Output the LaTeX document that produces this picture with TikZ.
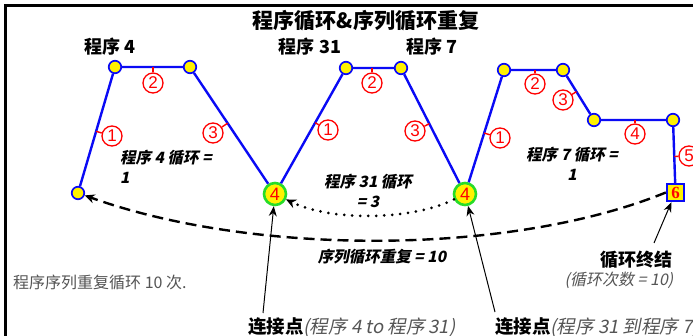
\documentclass[tikz,border=0pt]{standalone}
\usepackage{fontspec}
\setmainfont{Noto Sans CJK SC}[AutoFakeSlant=0.2]
\newfontfamily\slantfont{Noto Sans CJK SC}[FakeSlant=0.2]
\newfontfamily\numfont{Liberation Sans}
\newfontfamily\serfont{Liberation Serif}
\usetikzlibrary{arrows.meta,calc}
\definecolor{pblue}{RGB}{10,10,245}
\definecolor{pgreen}{RGB}{40,220,40}
\definecolor{pgray}{RGB}{85,85,85}
\newcommand{\fs}[1]{\fontsize{#1}{#1}\selectfont}
\begin{document}
\begin{tikzpicture}[x=1pt,y=-1pt,
  dot/.style={circle,draw=pblue,fill=yellow,line width=1.7pt,minimum size=12.5pt,inner sep=0pt},
  joint/.style={circle,draw=pgreen,fill=yellow,line width=2.6pt,minimum size=22pt,inner sep=0pt,text=red,font=\numfont\fs{18}},
  endbox/.style={rectangle,draw=pblue,fill=yellow,line width=1.9pt,minimum size=17.5pt,inner sep=0pt,text=red,font=\serfont\bfseries\fs{17}},
  num/.style={circle,draw=red,line width=1.3pt,minimum size=20pt,inner sep=0pt,text=red,font=\numfont\fs{17}},
  tick/.style={red,line width=1.4pt},
  seg/.style={pblue,line width=2.4pt},
  head/.style={font=\bfseries\fs{18},inner sep=0pt},
  note/.style={font=\slantfont\bfseries\fs{15.5},inner sep=0pt},
  tip/.style={-{Stealth[length=10pt,width=9pt]}},
  thin/.style={black,line width=1pt,-{Stealth[length=10pt,width=8pt]}}
]
\useasboundingbox (0,0) rectangle (693,336);
\fill[white] (0,0) rectangle (693,336);
\draw[line width=3pt] (5.5,345) -- (5.5,5.5) -- (705,5.5);

% title
\node[font=\bfseries\fs{21},inner sep=0pt] (title) at (366,21) {程序循环\&序列循环重复};

% points
\node[dot] (A0) at (78,193) {};
\node[dot] (A1) at (115,67) {};
\node[dot] (A2) at (190,67) {};
\node[joint] (J1) at (275,194) {4};
\node[dot] (B1) at (346,68) {};
\node[dot] (B2) at (401,68) {};
\node[joint] (J2) at (465,194) {4};
\node[dot] (D1) at (504,70) {};
\node[dot] (D2) at (563,70) {};
\node[dot] (D3) at (594,120) {};
\node[dot] (D4) at (673,120) {};
\node[endbox] (E) at (675.5,192.5) {6};

\draw[seg] (A0) -- (A1) -- (A2) -- (J1) -- (B1) -- (B2) -- (J2) -- (D1) -- (D2) -- (D3) -- (D4) -- (E);

% circled numbers
\node[num] (n1a) at (112,136) {1};
\node[num] (n2a) at (153,83) {2};
\node[num] (n3a) at (213,133) {3};
\node[num] (n1b) at (328,130) {1};
\node[num] (n2b) at (372,83) {2};
\node[num] (n3b) at (415,131) {3};
\node[num] (n1d) at (500,138) {1};
\node[num] (n2d) at (535,84) {2};
\node[num] (n3d) at (563,100) {3};
\node[num] (n4d) at (635,134) {4};
\node[num] (n5d) at (689,156) {5};
\draw[tick] (n1a) -- ($(A0)!(n1a)!(A1)$);
\draw[tick] (n2a) -- ($(A1)!(n2a)!(A2)$);
\draw[tick] (n3a) -- ($(A2)!(n3a)!(J1)$);
\draw[tick] (n1b) -- ($(J1)!(n1b)!(B1)$);
\draw[tick] (n2b) -- ($(B1)!(n2b)!(B2)$);
\draw[tick] (n3b) -- ($(B2)!(n3b)!(J2)$);
\draw[tick] (n1d) -- ($(J2)!(n1d)!(D1)$);
\draw[tick] (n2d) -- ($(D1)!(n2d)!(D2)$);
\draw[tick] (n3d) -- ($(D2)!(n3d)!(D3)$);
\draw[tick] (n4d) -- ($(D3)!(n4d)!(D4)$);
\draw[tick] (n5d) -- ($(D4)!(n5d)!(E)$);

% headings
\node[head] (h4) at (110,47) {程序 4};
\node[head] (h31) at (310,47) {程序 31};
\node[head] (h7) at (432,47) {程序 7};

% loop notes
\node[note,align=left,anchor=north west] (l4) at (120,150) {程序 4 循环 =\\[4pt]1};
\node[note,align=center] (l31) at (368,191) {程序 31 循环\\[4pt]= 3};
\node[note,align=center] (l7) at (572,164) {程序 7 循环 =\\[4pt]1};
\node[note] (lseq) at (382,257) {序列循环重复 = 10};

% loops
\draw[black,line width=2.4pt,dash pattern=on 11pt off 6pt,tip] (E.west) .. controls (510,256) and (253,256) .. (A0);
\draw[black,line width=3pt,line cap=round,dash pattern=on 0pt off 8pt,tip] (J2) .. controls (410,221) and (330,221) .. (J1);

% bottom texts
\node[font=\fs{16},text=pgray,anchor=west,inner sep=0pt] (desc) at (13,282) {程序序列重复循环 10 次.};
\node[anchor=west,inner sep=0pt,font=\fs{18.5}] (c1) at (248,327) {\textbf{连接点}\textcolor{pgray}{\itshape (程序 4 to 程序 31)}};
\node[anchor=west,inner sep=0pt,font=\fs{18.5}] (c2) at (495,327) {\textbf{连接点}\textcolor{pgray}{\itshape (程序 31 到程序 7)}};
\node[head] (endt) at (636,260) {循环终结};
\node[font=\itshape\fs{16},text=pgray,inner sep=0pt] (endn) at (619,280) {(循环次数 = 10)};

\coordinate (a1) at (263,313);
\coordinate (a2) at (495,312);
\coordinate (a3) at (654,243);
\draw[thin] (a1) -- (J1);
\draw[thin] (a2) -- (J2);
\draw[thin] (a3) -- (E);
\end{tikzpicture}
\end{document}
